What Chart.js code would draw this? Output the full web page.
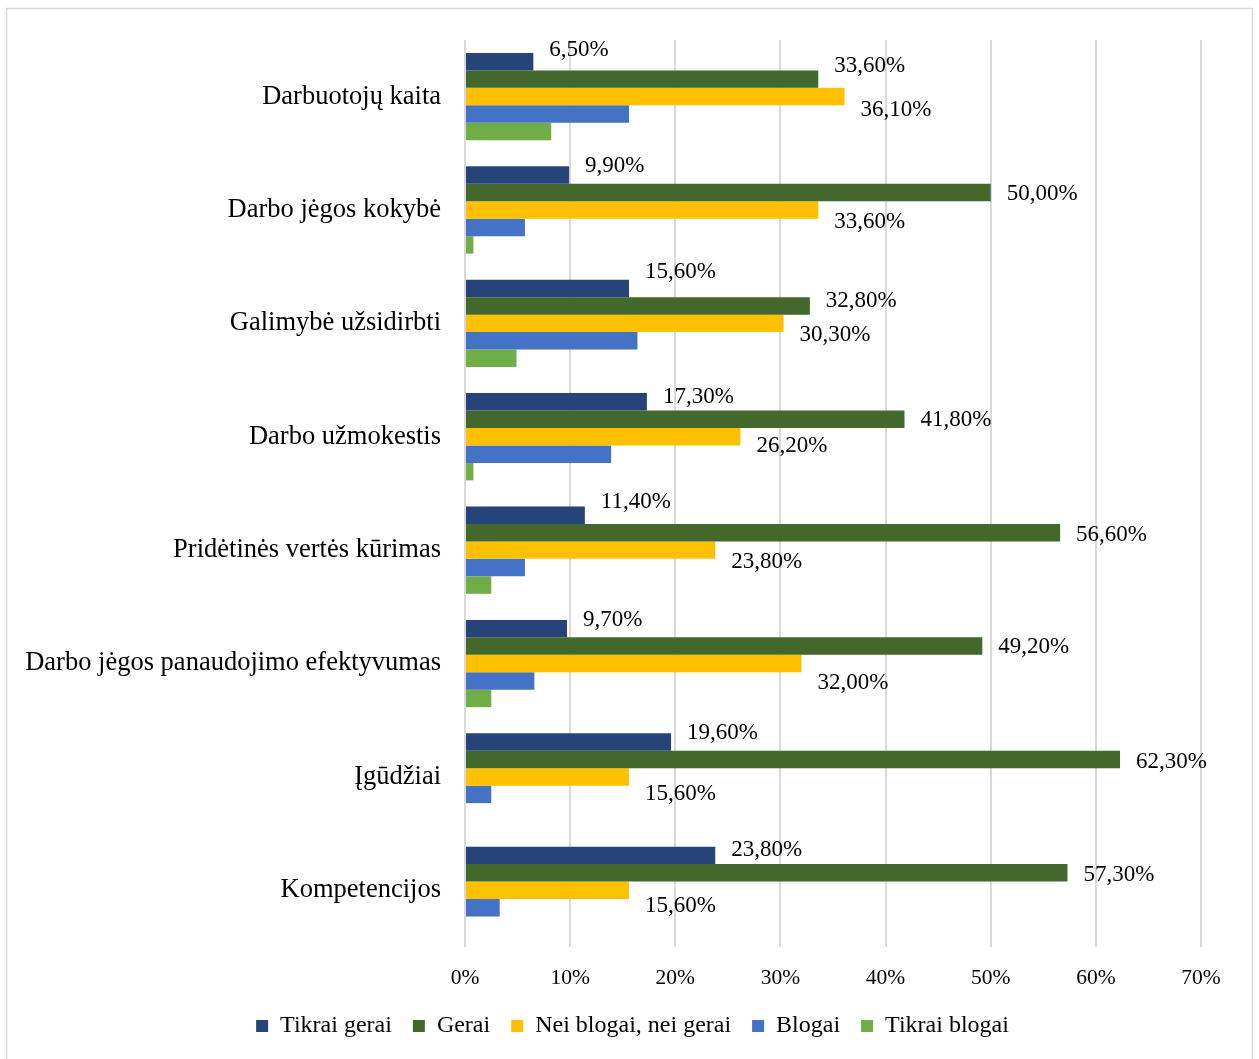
<!DOCTYPE html>
<html>
<head>
<meta charset="utf-8">
<script src="https://cdn.jsdelivr.net/npm/chart.js@4.4.1/dist/chart.umd.min.js"></script>
<style>
  html, body { margin: 0; padding: 0; background: #ffffff; }
  #wrap { position: relative; width: 1259px; height: 1059px; }
</style>
</head>
<body>
<div id="wrap"><canvas id="c" width="1259" height="1059"></canvas></div>
<script>
// Survey categories (top to bottom)
const categories = [
  'Darbuotojų kaita',
  'Darbo jėgos kokybė',
  'Galimybė užsidirbti',
  'Darbo užmokestis',
  'Pridėtinės vertės kūrimas',
  'Darbo jėgos panaudojimo efektyvumas',
  'Įgūdžiai',
  'Kompetencijos'
];

// Answer shares, %
const tikraiGerai = [6.5, 9.9, 15.6, 17.3, 11.4, 9.7, 19.6, 23.8];
const gerai       = [33.6, 50.0, 32.8, 41.8, 56.6, 49.2, 62.3, 57.3];
const neiBlogai   = [36.1, 33.6, 30.3, 26.2, 23.8, 32.0, 15.6, 15.6];
const blogai      = [15.6, 5.7, 16.4, 13.9, 5.7, 6.6, 2.5, 3.3];
const tikraiBlogai= [8.2, 0.8, 4.9, 0.8, 2.5, 2.5, 0, 0];

const seriesNames = ['Tikrai gerai', 'Gerai', 'Nei blogai, nei gerai', 'Blogai', 'Tikrai blogai'];
const seriesColors = ['#264478', '#43682B', '#FFC000', '#4472C4', '#70AD47'];

// Axis ticks, %
const xTicks = [0, 10, 20, 30, 40, 50, 60, 70];

// Vertical nudge of each value label against its bar (series 0..2)
const labelNudge = [
  [-12, -9, -16, -5, -13, -9, -9, -5],
  [-13, 1, -5, 1, 2, 1, 2, 2],
  [13, 12, 12, 9, 12, 19, 17, 16]
];

const FONT = "'Liberation Serif', 'Times New Roman', serif";

const fmt = v => v.toFixed(2).replace('.', ',') + '%';

// White background and light outer frame
const frame = {
  id: 'frame',
  beforeDraw(chart) {
    const ctx = chart.ctx;
    ctx.save();
    ctx.fillStyle = '#ffffff';
    ctx.fillRect(0, 0, chart.width, chart.height);
    ctx.strokeStyle = '#d9d9d9';
    ctx.lineWidth = 1.5;
    ctx.strokeRect(6.5, 8.5, 1246, 1060);
    ctx.restore();
  }
};

// Center the legend on the whole canvas rather than on the padded area
const legendShift = {
  id: 'legendShift',
  afterLayout(chart) {
    const lg = chart.legend;
    if (lg) { lg.left += 20; lg.right += 20; }
  }
};

// Percentage labels for the first three series
const valueLabels = {
  id: 'valueLabels',
  afterDatasetsDraw(chart) {
    const ctx = chart.ctx;
    ctx.save();
    ctx.font = '23px ' + FONT;
    ctx.fillStyle = '#000000';
    ctx.textAlign = 'left';
    ctx.textBaseline = 'middle';
    for (let d = 0; d < 3; d++) {
      const meta = chart.getDatasetMeta(d);
      const values = chart.data.datasets[d].data;
      meta.data.forEach((bar, i) => {
        ctx.fillText(fmt(values[i]), bar.x + 16, bar.y + labelNudge[d][i]);
      });
    }
    ctx.restore();
  }
};

const data = [tikraiGerai, gerai, neiBlogai, blogai, tikraiBlogai];

new Chart(document.getElementById('c'), {
  type: 'bar',
  data: {
    labels: categories,
    datasets: data.map((vals, k) => ({
      label: seriesNames[k],
      data: vals,
      backgroundColor: seriesColors[k],
      borderWidth: 0,
      categoryPercentage: 0.77,
      barPercentage: 1.0
    }))
  },
  options: {
    indexAxis: 'y',
    responsive: false,
    animation: false,
    devicePixelRatio: 1,
    layout: { padding: { left: 24, right: 58, top: 38, bottom: 11 } },
    plugins: {
      legend: {
        position: 'bottom',
        labels: {
          font: { family: FONT, size: 24 },
          color: '#000000',
          boxWidth: 12,
          boxHeight: 12,
          padding: 21
        }
      },
      tooltip: { enabled: false }
    },
    scales: {
      x: {
        min: 0,
        max: 70,
        afterBuildTicks(scale) {
          scale.ticks = xTicks.map(v => ({ value: v }));
        },
        afterFit(scale) { scale.height = 46; },
        ticks: {
          font: { family: FONT, size: 21.5 },
          color: '#000000',
          padding: 18,
          callback: v => v + '%'
        },
        grid: { color: '#d9d9d9', lineWidth: 2, drawTicks: false },
        border: { display: false }
      },
      y: {
        afterFit(scale) { scale.width = 441; },
        ticks: {
          font: { family: FONT, size: 26.5 },
          color: '#000000',
          padding: 24
        },
        grid: { display: false, drawTicks: false },
        border: { display: false }
      }
    }
  },
  plugins: [frame, legendShift, valueLabels]
});
</script>
</body>
</html>
